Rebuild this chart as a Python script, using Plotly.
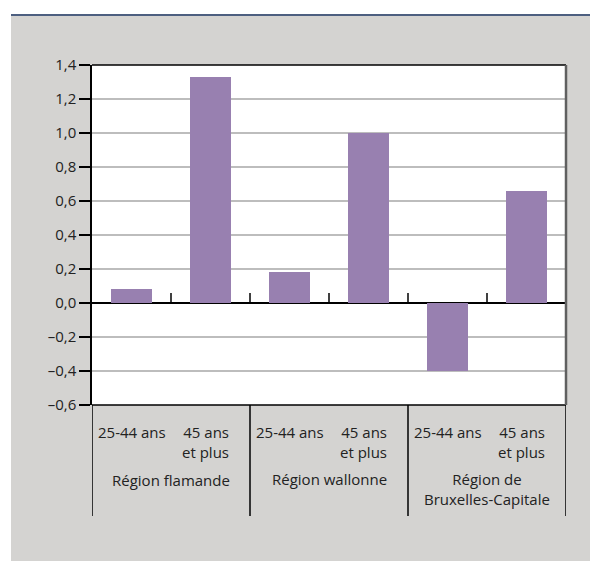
import plotly.graph_objects as go

regions = ["Région flamande", "Région wallonne", "Région de<br>Bruxelles-Capitale"]
age_groups = ["25-44 ans", "45 ans<br>et plus"]
values = [0.08, 1.33, 0.18, 1.00, -0.40, 0.66]
y_ticks = [-0.6, -0.4, -0.2, 0.0, 0.2, 0.4, 0.6, 0.8, 1.0, 1.2, 1.4]
y_ticktext = ["–0,6", "–0,4", "–0,2", "0,0", "0,2", "0,4", "0,6", "0,8", "1,0", "1,2", "1,4"]

# figure slightly larger than the 590x561 window; the page clips the overflow
W, H = 610, 580
L, R, T, B = 92, 566, 65, 405
pw, ph = R - L, B - T

def px(x):
    return (x - L) / pw

def py(y):
    return (B - y) / ph

FONT = "Open Sans"
TXT = "#222222"
FS = 15
BAR_W = 0.51

xs = list(range(len(values)))
fig = go.Figure(go.Bar(x=xs, y=values, marker=dict(color="#9880b0", line=dict(width=0)),
                       width=BAR_W, hoverinfo="skip"))

shapes = []
shapes.append(dict(type="rect", xref="paper", yref="paper", x0=px(11), x1=px(640),
                   y0=py(620), y1=py(16), fillcolor="#d4d3d1", line=dict(width=0), layer="below"))
shapes.append(dict(type="line", xref="paper", yref="paper", x0=px(11), x1=px(640),
                   y0=py(15), y1=py(15), line=dict(color="#4d5f80", width=2)))
shapes.append(dict(type="rect", xref="paper", yref="paper", x0=0, x1=1, y0=0, y1=1,
                   fillcolor="white", line=dict(width=0), layer="below"))
shapes.append(dict(type="line", xref="paper", yref="paper", x0=0, x1=1, y0=1, y1=1,
                   line=dict(color="black", width=1.5)))
shapes.append(dict(type="line", xref="paper", yref="paper", x0=0, x1=1, y0=0, y1=0,
                   line=dict(color="black", width=1.5)))
shapes.append(dict(type="line", xref="paper", yref="paper", x0=1, x1=1, y0=0, y1=1,
                   line=dict(color="#606060", width=2.5)))
for k in range(len(values) - 1):
    shapes.append(dict(type="line", xref="x", yref="y", x0=k + 0.5, x1=k + 0.5,
                       y0=0, y1=10 / 170, line=dict(color="black", width=1.5)))
for xv in [-0.5, 1.5, 3.5, 5.5]:
    shapes.append(dict(type="line", xref="x", yref="paper", x0=xv, x1=xv,
                       y0=py(516), y1=0, line=dict(color="black", width=1.5)))

annotations = []
region_centers = [480, 479, 488.5]
for g, reg in enumerate(regions):
    annotations.append(dict(x=2 * g, y=py(432), xref="x", yref="paper", text=age_groups[0],
                            showarrow=False, xanchor="center", yanchor="middle",
                            font=dict(family=FONT, size=FS, color=TXT)))
    annotations.append(dict(x=2 * g + 1 + BAR_W / 2 + 0.01, y=py(441.5), xref="x", yref="paper",
                            text=age_groups[1], showarrow=False, xanchor="right", yanchor="middle",
                            align="right", font=dict(family=FONT, size=FS, color=TXT)))
    annotations.append(dict(x=2 * g + 0.5, y=py(region_centers[g]), xref="x", yref="paper", text=reg,
                            showarrow=False, xanchor="center", yanchor="middle", align="center",
                            font=dict(family=FONT, size=FS, color=TXT)))

fig.update_layout(
    width=W, height=H,
    margin=dict(l=L, r=W - R, t=T, b=H - B, pad=0),
    paper_bgcolor="white", plot_bgcolor="rgba(0,0,0,0)",
    showlegend=False,
    bargap=0,
    hovermode=False,
    shapes=shapes,
    annotations=annotations,
    font=dict(family=FONT, size=FS, color=TXT),
    xaxis=dict(range=[-0.5, 5.5], showticklabels=False, ticks="", showgrid=False,
               zeroline=False, showline=False, fixedrange=True),
    yaxis=dict(range=[-0.6, 1.4], tickvals=y_ticks, ticktext=y_ticktext,
               ticks="outside", ticklen=11, tickwidth=1.5, tickcolor="black",
               showline=True, linecolor="black", linewidth=1.5,
               showgrid=True, gridcolor="#bdbdbd", gridwidth=1.5,
               zeroline=True, zerolinecolor="black", zerolinewidth=1.5,
               tickfont=dict(family=FONT, size=FS, color=TXT), fixedrange=True),
)

fig.write_html("out.html", config={"displayModeBar": False},
               post_script="document.body.style.margin='0';document.body.style.overflow='hidden';document.documentElement.style.overflow='hidden';")
